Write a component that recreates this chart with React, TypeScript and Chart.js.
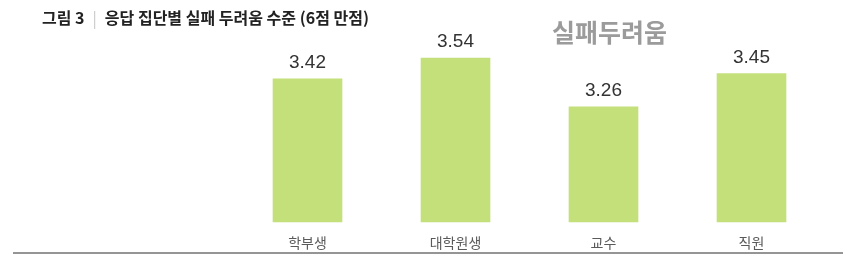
import React, { useEffect, useRef } from 'react';
import { Chart, registerables } from 'chart.js';

Chart.register(...registerables);

const categories = ['학부생', '대학원생', '교수', '직원'];
const values = [3.42, 3.54, 3.26, 3.45];
const valueLabels = ['3.42', '3.54', '3.26', '3.45'];
const yMin = 2.6;
const yMax = 3.7;

const titleNum = '그림 3';
const titleText = '응답 집단별 실패 두려움 수준 (6점 만점)';
const seriesName = '실패두려움';

const valueLabelPlugin = {
  id: 'valueLabels',
  afterDatasetsDraw(chart: any) {
    const ctx = chart.ctx;
    const meta = chart.getDatasetMeta(0);
    ctx.save();
    ctx.font = '19px "Liberation Sans", Arial, sans-serif';
    ctx.fillStyle = '#333333';
    ctx.textAlign = 'center';
    ctx.textBaseline = 'alphabetic';
    meta.data.forEach((bar: any, i: number) => {
      ctx.fillText(valueLabels[i], bar.x, bar.y - 11);
    });
    ctx.restore();
  },
};

export default function App() {
  const canvasRef = useRef<HTMLCanvasElement | null>(null);

  useEffect(() => {
    if (!canvasRef.current) return;
    const chart = new Chart(canvasRef.current, {
      type: 'bar',
      data: {
        labels: categories,
        datasets: [
          {
            label: seriesName,
            data: values,
            backgroundColor: '#c3e07b',
            borderWidth: 0,
            barThickness: 69,
          },
        ],
      },
      options: {
        animation: false,
        responsive: false,
        maintainAspectRatio: false,
        layout: { padding: { left: 233.5, right: 37.5, top: 30, bottom: 0 } },
        plugins: {
          legend: { display: false },
          tooltip: { enabled: false },
          title: { display: false },
        },
        scales: {
          x: {
            grid: { display: false, drawTicks: false },
            border: { display: false },
            ticks: {
              color: '#5a5a5a',
              padding: 12,
              font: { family: '"Noto Sans CJK KR", sans-serif', size: 14 },
            },
          },
          y: {
            display: false,
            min: yMin,
            max: yMax,
          },
        },
      },
      plugins: [valueLabelPlugin],
    });
    return () => chart.destroy();
  }, []);

  return (
    <div
      style={{
        position: 'fixed',
        left: 0,
        top: 0,
        width: 863,
        height: 263,
        background: '#ffffff',
        overflow: 'hidden',
      }}
    >
      <canvas
        ref={canvasRef}
        width={863}
        height={263}
        style={{ position: 'absolute', left: 0, top: 0, display: 'block' }}
      />
      <div
        style={{
          position: 'absolute',
          left: 42,
          top: 7,
          lineHeight: '20px',
          fontSize: 16,
          fontWeight: 700,
          color: '#222222',
          fontFamily: '"Noto Sans CJK KR", sans-serif',
          whiteSpace: 'nowrap',
        }}
      >
        <span>{titleNum}</span>
        <span style={{ color: '#c8c8c8', fontWeight: 400, margin: '0 8px' }}>|</span>
        <span>{titleText}</span>
      </div>
      <div
        style={{
          position: 'absolute',
          left: 552,
          top: 16,
          lineHeight: '30px',
          fontSize: 25,
          fontWeight: 700,
          color: '#9b9b9b',
          fontFamily: '"Noto Sans CJK KR", sans-serif',
          whiteSpace: 'nowrap',
        }}
      >
        {seriesName}
      </div>
      <div
        style={{
          position: 'absolute',
          left: 13,
          top: 252,
          width: 830,
          height: 2,
          background: '#959595',
        }}
      />
    </div>
  );
}
